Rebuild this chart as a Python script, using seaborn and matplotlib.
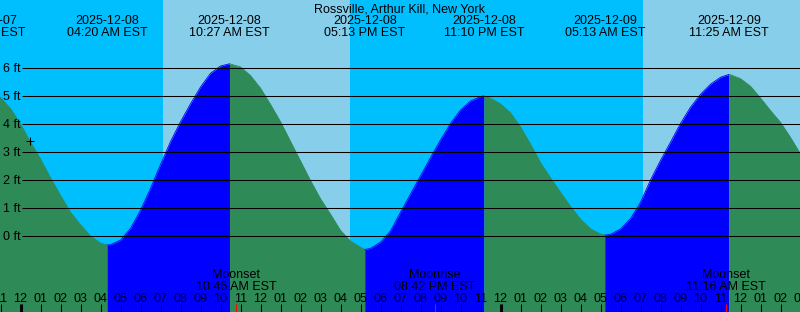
import numpy as np
import pandas as pd
import matplotlib
matplotlib.use("Agg")
import matplotlib.pyplot as plt
import matplotlib.transforms as mtransforms
import seaborn as sns

# ---------------- data ----------------
station = "Rossville, Arthur Kill, New York"

# water level every half hour (hours since 2025-12-08 00:00 EST)
sample_hours = list(np.arange(-1.0, 39.5, 0.5))
sample_ft = [4.95, 4.55, 4.00, 3.35, 2.75, 2.08, 1.45, 0.85, 0.40, 0.00,
             -0.25, -0.31, -0.15, 0.27, 0.92, 1.70, 2.55, 3.37, 4.08, 4.72,
             5.32, 5.81, 6.07, 6.14, 6.04, 5.73, 5.28, 4.70, 4.08, 3.38,
             2.68, 1.98, 1.33, 0.78, 0.20, -0.18, -0.40, -0.44, -0.22, 0.18,
             0.85, 1.50, 2.15, 2.80, 3.43, 4.02, 4.50, 4.82, 4.98, 4.92,
             4.72, 4.40, 3.90, 3.28, 2.62, 2.08, 1.56, 1.06, 0.60, 0.26,
             0.07, 0.06, 0.25, 0.62, 1.20, 2.00, 2.70, 3.35, 4.02, 4.60,
             5.06, 5.42, 5.67, 5.76, 5.62, 5.35, 4.93, 4.48, 4.06, 3.52,
             2.93]

hours = list(range(-1, 40))
hour_labels = ["11", "12", "01", "02", "03", "04", "05", "06", "07", "08", "09",
               "10", "11", "12", "01", "02", "03", "04", "05", "06", "07", "08",
               "09", "10", "11", "12", "01", "02", "03", "04", "05", "06", "07",
               "08", "09", "10", "11", "12", "01", "02", "03"]

tide_times = [-1.767, 4.333, 10.45, 17.217, 23.167, 29.217, 35.417]
tide_ft = [5.05, -0.32, 6.15, -0.48, 5.00, 0.03, 5.77]
tide_dates = ["2025-12-07", "2025-12-08", "2025-12-08", "2025-12-08",
              "2025-12-08", "2025-12-09", "2025-12-09"]
tide_clock = ["10:14 PM EST", "04:20 AM EST", "10:27 AM EST", "05:13 PM EST",
              "11:10 PM EST", "05:13 AM EST", "11:25 AM EST"]

moon_times = [10.767, 20.7, 35.267]
moon_kind = ["Moonset", "Moonrise", "Moonset"]
moon_clock = ["10:46 AM EST", "08:42 PM EST", "11:16 AM EST"]

day_start = [7.125, 31.125]
day_end = [16.475, 40.475]

now_time = 0.475
now_ft = 3.41

ft_levels = [0, 1, 2, 3, 4, 5, 6]
ft_labels = ["0 ft", "1 ft", "2 ft", "3 ft", "4 ft", "5 ft", "6 ft"]

# ---------------- style ----------------
sns.set_theme(style="white")
plt.rcParams["font.family"] = ["Liberation Sans", "DejaVu Sans"]
FS = 9.0

NIGHT = "#00BFFF"
DAY = "#87CEEB"
FALL = "#2E8B57"
RISE = "#0000FF"

W, H = 800, 312
fig = plt.figure(figsize=(W / 100, H / 100), dpi=100)
ax = fig.add_axes([0, 0, 1, 1])

x0 = -1.025
x1 = x0 + 40.0
ylo, yhi = -76 / 28, 236 / 28

# backgrounds
ax.axvspan(x0 - 5, x1 + 5, color=NIGHT, lw=0, zorder=0)
for a, b in zip(day_start, day_end):
    ax.axvspan(a, b, color=DAY, lw=0, zorder=0.5)

# curve data
pts = pd.DataFrame({"t": sample_hours + tide_times, "h": sample_ft + tide_ft})
pts = pts.sort_values("t").drop_duplicates("t").reset_index(drop=True)

bounds = tide_times + [x1 + 2]
rows = []
for i in range(len(tide_times)):
    a, b = bounds[i], bounds[i + 1]
    seg = pts[(pts.t >= a) & (pts.t <= b)].copy()
    rising = (i + 1 < len(tide_ft)) and (tide_ft[i + 1] > tide_ft[i])
    seg["segment"] = i
    seg["phase"] = "rise" if rising else "fall"
    rows.append(seg)
curve = pd.concat(rows, ignore_index=True)

for i, seg in curve.groupby("segment"):
    col = RISE if seg.phase.iloc[0] == "rise" else FALL
    ax.fill_between(seg.t, ylo - 1, seg.h, color=col, lw=0, zorder=2)

sns.lineplot(data=curve, x="t", y="h", hue="phase", units="segment",
             estimator=None, palette={"rise": RISE, "fall": FALL},
             legend=False, lw=0.6, ax=ax, zorder=2.1, sort=False)
ax.set_xlim(x0, x1)
ax.set_ylim(ylo, yhi)
ax.set_axis_off()

# horizontal grid lines
ax.hlines(ft_levels, xmin=x0 + 21.7 / 20, xmax=x1 + 1, colors="black",
          lw=0.75, zorder=3)
for v, lab in zip(ft_levels, ft_labels):
    tr = mtransforms.offset_copy(
        mtransforms.blended_transform_factory(ax.transAxes, ax.transData),
        fig=fig, x=0, y=-4.3, units="dots")
    ax.text(2.7 / W, v, lab, transform=tr, fontsize=FS, ha="left",
            va="baseline", color="black", zorder=5)

# now marker
ax.plot([now_time], [now_ft], marker="+", ms=6.4, mew=0.75, color="black",
        zorder=6, ls="none")

bt = mtransforms.blended_transform_factory(ax.transData, ax.transAxes)

# title
ax.text(0.5, 1 - 12 / H, station, transform=ax.transAxes, fontsize=FS,
        ha="center", va="baseline", color="black", zorder=5)

# tide event labels
for t, d, c in zip(tide_times, tide_dates, tide_clock):
    ax.text(t, 1 - 24 / H, d, transform=bt, fontsize=FS, ha="center",
            va="baseline", color="black", zorder=5)
    ax.text(t, 1 - 36 / H, c, transform=bt, fontsize=FS, ha="center",
            va="baseline", color="black", zorder=5)

# moon labels
for t, k, c in zip(moon_times, moon_kind, moon_clock):
    ax.text(t, 1 - 278.3 / H, k, transform=bt, fontsize=FS, ha="center",
            va="baseline", color="black", zorder=5)
    ax.text(t, 1 - 290 / H, c, transform=bt, fontsize=FS, ha="center",
            va="baseline", color="black", zorder=5)

# hour labels and ticks
for t, lab in zip(hours, hour_labels):
    ax.text(t, 1 - 301.7 / H, lab, transform=bt, fontsize=FS, ha="center",
            va="baseline", color="black", zorder=5)
hours_arr = np.array(hours)
mid = hours_arr % 24 == 0
ax.vlines(hours_arr[~mid], 0, 8 / H, transform=bt, colors="black",
          lw=0.75, zorder=5)
ax.vlines(hours_arr[mid], 0, 8 / H, transform=bt, colors="black",
          lw=2.2, zorder=5)
ax.vlines(moon_times, 0, 8 / H, transform=bt, colors="red", lw=0.75, zorder=5)

fig.savefig("out.png", dpi=100)
